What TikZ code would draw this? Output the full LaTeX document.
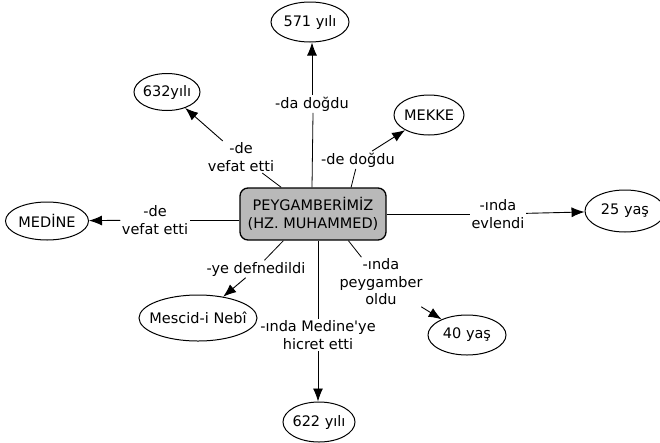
\documentclass[tikz,border=0pt]{standalone}
\usepackage{fontspec}
\setmainfont{DejaVu Sans}[Ligatures=TeXOff]
\usetikzlibrary{shapes.geometric,arrows.meta,positioning}
\newcommand{\cpt}[1]{\makebox[0pt]{#1}}

\begin{document}
\begin{tikzpicture}[x=1pt, y=-1pt,
  every node/.style={font=\fontsize{14.5}{17.5}\selectfont},
  concept/.style={ellipse, draw, line width=1pt, inner sep=0pt},
  center/.style={draw, line width=1.3pt, rounded corners=8pt, fill=gray!55,
    minimum width=146pt, minimum height=52pt, align=center, inner sep=0pt},
  link/.style={align=center, inner sep=1.5pt},
  line/.style={line width=0.8pt},
  arr/.style={line width=0.9pt, -{Latex[length=13pt,width=10pt]}}]
  \useasboundingbox (0,0) rectangle (660,442);
  % central concept
  \node[center] (pey) at (313,214) {PEYGAMBERİMİZ\\(HZ. MUHAMMED)};
  % concepts
  \node[concept, minimum width=78pt, minimum height=40pt] (e571) at (310,22) {\cpt{571 yılı}};
  \node[concept, minimum width=66pt, minimum height=37pt] (e632) at (167,92) {\cpt{632yılı}};
  \node[concept, minimum width=70pt, minimum height=40pt] (emek) at (429,115) {\cpt{MEKKE}};
  \node[concept, minimum width=83pt, minimum height=38pt] (emed) at (47,221) {\cpt{MEDİNE}};
  \node[concept, minimum width=80pt, minimum height=42pt] (e25) at (625,211) {\cpt{25 yaş}};
  \node[concept, minimum width=78pt, minimum height=40pt] (e40) at (467,335) {\cpt{40 yaş}};
  \node[concept, minimum width=118pt, minimum height=46pt] (emes) at (198,318) {\cpt{Mescid-i Nebî}};
  \node[concept, minimum width=72pt, minimum height=40pt] (e622) at (319,422) {\cpt{622 yılı}};
  % linking phrases
  \node[link] (l571) at (312,104) {-da doğdu};
  \node[link] (l632) at (241,157) {-de\\vefat etti};
  \node[link] (lmek) at (358,160) {-de doğdu};
  \node[link] (lmed) at (155,220) {-de\\vefat etti};
  \node[link] (lev) at (498,214) {-ında\\evlendi};
  \node[link] (l40) at (381,282) {-ında\\peygamber\\oldu};
  \node[link] (lmes) at (256,269) {-ye defnedildi};
  \node[link] (l622) at (318,335) {-ında Medine'ye\\hicret etti};
  % connectors
  \draw[line] (l571.south -| pey.north) -- (pey.north -| l571.south);
  \draw[arr] (l571.north) -- (l571.north |- e571.south);
  \draw[line] (pey.140) -- (l632);
  \draw[arr] (l632) -- (e632);
  \draw[line] (pey.35) -- (lmek);
  \draw[arr] (lmek) -- (emek);
  \draw[line] (pey.west |- lmed.east) -- (lmed.east);
  \draw[arr] (lmed) -- (emed);
  \draw[line] (pey.east |- lev.west) -- (lev.west);
  \draw[arr] (lev) -- (e25);
  \draw[line] (pey.-37) -- (l40);
  \draw[arr] (l40) -- (e40);
  \draw[line] (pey.-138) -- (lmes);
  \draw[arr] (lmes) -- (emes);
  \draw[line] (l622.north) -- (l622.north |- pey.south);
  \draw[arr] (l622.south) -- (l622.south |- e622.north);
\end{tikzpicture}
\end{document}
